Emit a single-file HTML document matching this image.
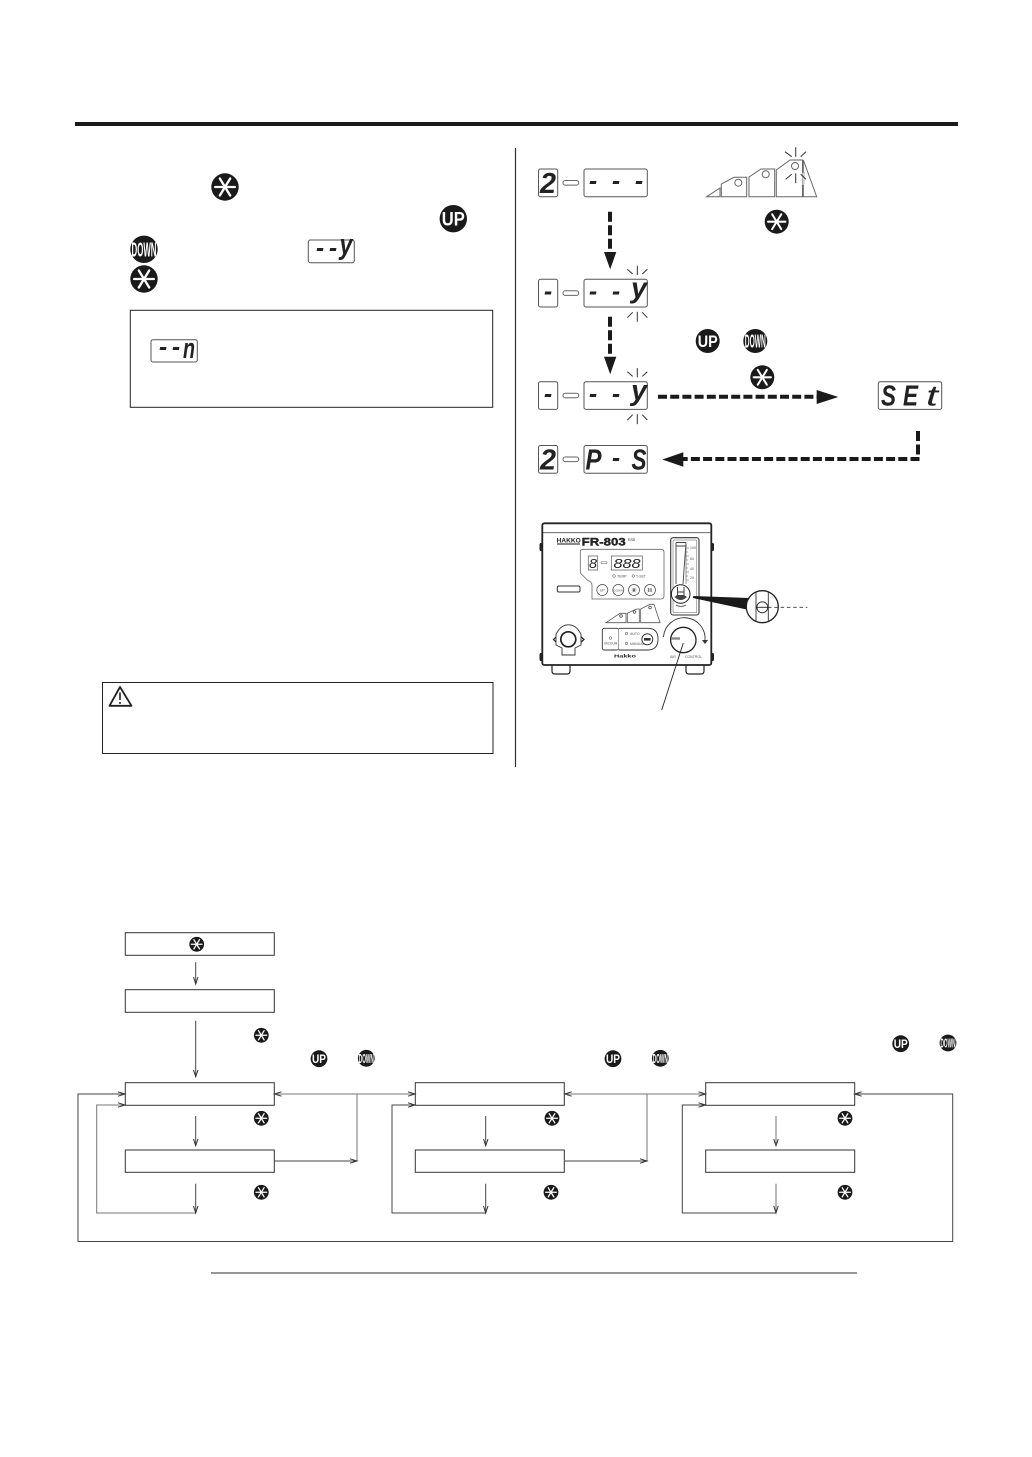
<!DOCTYPE html>
<html lang="en">
<head>
<meta charset="utf-8">
<title>Diagram</title>
<style>
html,body{margin:0;padding:0;background:#fff;}
svg{display:block;}
text{font-family:"Liberation Sans",sans-serif;fill:#222;}
.seg{font-style:italic;font-weight:bold;text-anchor:middle;font-size:29px;}
.dash{font-style:italic;text-anchor:middle;font-size:25px;font-weight:bold;}
.btn{fill:#fff;font-weight:bold;text-anchor:middle;}
.lcd{fill:#fff;stroke:#555;stroke-width:1;}
.fl{fill:none;stroke:#444;stroke-width:1;}
.fg{fill:none;stroke:#777;stroke-width:1;}
.ah{fill:none;stroke:#333;stroke-width:1;}
.ray{stroke:#333;stroke-width:1;fill:none;}
.tiny{font-size:3.5px;fill:#555;}
</style>
</head>
<body>
<svg xmlns="http://www.w3.org/2000/svg" width="1032" height="1457" viewBox="0 0 1032 1457">
<defs>
  <g id="star">
    <circle r="1" fill="#1a1a1a"/>
    <g stroke="#fff" stroke-width="0.17" stroke-linecap="round">
      <line x1="-0.72" y1="0" x2="0.72" y2="0"/>
      <line x1="-0.38" y1="-0.62" x2="0.38" y2="0.62"/>
      <line x1="-0.38" y1="0.62" x2="0.38" y2="-0.62"/>
    </g>
  </g>
  <g id="pillbox">
    <rect class="lcd" x="538.5" y="0" width="19.2" height="27.7" rx="2"/>
    <rect x="563" y="11.5" width="15.7" height="4.6" rx="2.2" fill="#fff" stroke="#666" stroke-width="1"/>
    <rect class="lcd" x="584" y="0" width="63.3" height="27.7" rx="2"/>
  </g>
  <g id="rays">
    <path class="ray" d="M637.3 265.7V275M627.3 269.3L632.7 274M647.3 269.3L642.3 274M637.3 311.7V321.7M627.3 317.7L632.7 312.3M647.3 317.7L642.3 312.3"/>
  </g>
</defs>

<rect width="1032" height="1457" fill="#fff"/>

<!-- top rule and separators -->
<rect x="75" y="122" width="883" height="4" fill="#1a1a1a"/>
<line x1="515.5" y1="148" x2="515.5" y2="767" stroke="#333" stroke-width="1.2"/>
<line x1="211" y1="1273" x2="857" y2="1273" stroke="#777" stroke-width="1.5"/>

<!-- left column icons -->
<use href="#star" transform="translate(225,187) scale(13.7)"/>
<circle cx="453.3" cy="218.7" r="13.7" fill="#1a1a1a"/>
<text class="btn" x="453.3" y="225.5" font-size="19" textLength="23" lengthAdjust="spacingAndGlyphs">UP</text>
<circle cx="144" cy="249.3" r="13.7" fill="#1a1a1a"/>
<text class="btn" x="144" y="256.5" font-size="20" textLength="25" lengthAdjust="spacingAndGlyphs">DOWN</text>
<use href="#star" transform="translate(144,279) scale(13.7)"/>

<rect class="lcd" x="308.3" y="240" width="46" height="22.7" rx="2" stroke="#222"/>
<text class="dash" font-size="20" x="320" y="256">-</text>
<text class="dash" font-size="20" x="333" y="256">-</text>
<text class="seg" font-size="23" x="346" y="254" textLength="13" lengthAdjust="spacingAndGlyphs">y</text>

<rect x="130.3" y="310.3" width="362.4" height="97" fill="#fff" stroke="#222" stroke-width="1"/>
<rect class="lcd" x="151" y="339.7" width="46.3" height="22.3" rx="2" stroke="#222"/>
<text class="dash" font-size="20" x="163" y="355">-</text>
<text class="dash" font-size="20" x="176" y="355">-</text>
<text class="seg" font-size="19" x="189" y="358" textLength="12" lengthAdjust="spacingAndGlyphs">n</text>

<!-- warning box -->
<rect x="102.5" y="682.5" width="390.5" height="71" fill="#fff" stroke="#222" stroke-width="1"/>
<path d="M120 687L109.5 705.8H131.5Z" fill="#fff" stroke="#222" stroke-width="1.8" stroke-linejoin="round"/>
<line x1="120" y1="692.5" x2="120" y2="700" stroke="#222" stroke-width="1.6"/>
<circle cx="120" cy="703" r="1" fill="#222"/>

<!-- display row 1 -->
<use href="#pillbox" transform="translate(0,169)"/>
<text class="seg" x="548" y="193" textLength="16" lengthAdjust="spacingAndGlyphs">2</text>
<text class="dash" x="593" y="189">-</text>
<text class="dash" x="616" y="189">-</text>
<text class="dash" x="639" y="189">-</text>

<!-- mini pyramid top -->
<g fill="#fff" stroke="#666" stroke-width="1">
  <path d="M706.7 196.7L720 188V196.7Z"/>
  <path d="M721.3 196.7V184L734 177.3H746.7V196.7Z"/>
  <path d="M749 196.7V177L761 169H774.7V196.7Z"/>
  <path d="M776.3 196.7V170L790 160H802.5V196.7Z"/>
  <path d="M803.3 160L816.7 196.7H803.3Z"/>
  <circle cx="738.3" cy="182.7" r="3.5"/>
  <circle cx="765.7" cy="174.3" r="3.5"/>
  <circle cx="795" cy="166" r="3.5"/>
</g>
<path class="ray" d="M795.7 147.3V156.7M785 151.7L791.7 156.7M806 151.7L800.7 156.7"/>
<rect x="785" y="172.5" width="22" height="12" fill="#fff"/>
<path d="M802.5 172V184M804 172V184" stroke="#888" stroke-width="0.7"/>
<path class="ray" d="M795.7 173.3V183.3M785.7 179.3L791.7 174.3M806 179.3L800.7 174.3"/>
<use href="#star" transform="translate(776.7,221.7) scale(12)"/>

<!-- dashed arrows -->
<g fill="none" stroke="#1a1a1a" stroke-width="4">
  <line x1="610" y1="211.7" x2="610" y2="252" stroke-dasharray="10 3.5"/>
  <line x1="610" y1="316.7" x2="610" y2="356.7" stroke-dasharray="10 3.5"/>
  <line x1="658" y1="396.7" x2="817" y2="396.7" stroke-dasharray="9 3.2"/>
  <line x1="918" y1="431" x2="918" y2="457" stroke-dasharray="10 3.5"/>
  <line x1="919.5" y1="459" x2="683" y2="459" stroke-dasharray="9 3.2"/>
</g>
<g fill="#1a1a1a">
  <path d="M604 252H616.3L610.2 269.3Z"/>
  <path d="M604 356.7H616.3L610.2 374.3Z"/>
  <path d="M816.7 390V404L838.3 397Z"/>
  <path d="M683.3 452.3V466.7L662.3 459.5Z"/>
</g>

<!-- display row 2 -->
<use href="#pillbox" transform="translate(0,279.3)"/>
<use href="#rays"/>
<text class="dash" x="548" y="299.5">-</text>
<text class="dash" x="593" y="299.5">-</text>
<text class="dash" x="616" y="299.5">-</text>
<text class="seg" x="639" y="297.5" textLength="16" lengthAdjust="spacingAndGlyphs">y</text>

<!-- display row 3 -->
<use href="#pillbox" transform="translate(0,381.7)"/>
<use href="#rays" transform="translate(0,102.4)"/>
<text class="dash" x="548" y="402">-</text>
<text class="dash" x="593" y="402">-</text>
<text class="dash" x="616" y="402">-</text>
<text class="seg" x="639" y="400" textLength="16" lengthAdjust="spacingAndGlyphs">y</text>

<!-- display row 4 -->
<use href="#pillbox" transform="translate(0,445.5)"/>
<text class="seg" x="548" y="469.5" textLength="16" lengthAdjust="spacingAndGlyphs">2</text>
<text class="seg" x="593.5" y="469.5" textLength="16" lengthAdjust="spacingAndGlyphs">P</text>
<text class="dash" x="616" y="466">-</text>
<text class="seg" x="639" y="469.5" textLength="15" lengthAdjust="spacingAndGlyphs">S</text>

<!-- SET -->
<rect class="lcd" x="878.3" y="381.7" width="63.4" height="27.7" rx="2"/>
<text class="seg" x="888.5" y="405.5" textLength="15" lengthAdjust="spacingAndGlyphs">S</text>
<text class="seg" x="910.5" y="405.5" textLength="15" lengthAdjust="spacingAndGlyphs">E</text>
<text class="seg" font-weight="normal" style="font-weight:normal" x="932" y="405.5" textLength="12" lengthAdjust="spacingAndGlyphs">t</text>

<!-- right column buttons -->
<circle cx="707.7" cy="341" r="12" fill="#1a1a1a"/>
<text class="btn" x="707.7" y="347" font-size="17" textLength="20" lengthAdjust="spacingAndGlyphs">UP</text>
<circle cx="755.3" cy="341" r="12" fill="#1a1a1a"/>
<text class="btn" x="755.3" y="347.5" font-size="18" textLength="21" lengthAdjust="spacingAndGlyphs">DOWN</text>
<use href="#star" transform="translate(762.3,377.3) scale(12)"/>

<!-- front panel -->
<g>
  <path d="M552 665V671Q552 674 555 674H567Q570 674 570 671V665M686 665V671Q686 674 689 674H701Q704 674 704 671V665" fill="#fff" stroke="#222" stroke-width="1.2"/>
  <rect x="539.5" y="543" width="4" height="8" rx="1.5" fill="#222"/>
  <rect x="539.5" y="653" width="4" height="8" rx="1.5" fill="#222"/>
  <rect x="710" y="543" width="4" height="8" rx="1.5" fill="#222"/>
  <rect x="710" y="653" width="4" height="8" rx="1.5" fill="#222"/>
  <rect x="542.3" y="523.3" width="169" height="141.7" rx="2" fill="#fff" stroke="#222" stroke-width="1.8"/>
  <line x1="543" y1="532.7" x2="711" y2="532.7" stroke="#555" stroke-width="0.8"/>
  <text x="556.7" y="542.5" font-size="6.5" font-weight="bold" textLength="24" lengthAdjust="spacingAndGlyphs">HAKKO</text>
  <line x1="557" y1="544" x2="580" y2="544" stroke="#444" stroke-width="1.2"/>
  <text x="581.7" y="545.5" font-size="11" font-weight="bold" textLength="44" lengthAdjust="spacingAndGlyphs" stroke="#222" stroke-width="0.4">FR-803</text>
  <text x="628" y="541" font-size="3.5" fill="#444">ESD</text>

  <path d="M583 549.3H661Q664 549.3 664 552V596Q664 599 661 599H592V585Q592 582 588 580.5L580.3 573V552Q580.3 549.3 583 549.3Z" fill="#fff" stroke="#666" stroke-width="0.8"/>
  <rect x="588.3" y="556" width="9.4" height="14" fill="#fff" stroke="#555" stroke-width="0.7"/>
  <rect x="601" y="561.5" width="6" height="2.2" rx="1" fill="#fff" stroke="#777" stroke-width="0.6"/>
  <rect x="611.3" y="556" width="31" height="14" fill="#fff" stroke="#555" stroke-width="0.7"/>
  <text x="593" y="568" font-size="13" font-style="italic" text-anchor="middle" textLength="8" lengthAdjust="spacingAndGlyphs" fill="#444">8</text>
  <text x="627" y="568" font-size="13" font-style="italic" text-anchor="middle" textLength="27" lengthAdjust="spacingAndGlyphs" fill="#444">888</text>
  <circle cx="614" cy="576" r="1.3" fill="#fff" stroke="#444" stroke-width="0.5"/>
  <text class="tiny" x="617" y="577.5">TEMP</text>
  <circle cx="633.3" cy="576" r="1.3" fill="#fff" stroke="#444" stroke-width="0.5"/>
  <text class="tiny" x="636" y="577.5">T-SET</text>
  <g fill="#fff" stroke="#444" stroke-width="0.7">
    <circle cx="602.3" cy="590" r="5.5"/>
    <circle cx="618.3" cy="590" r="5.5"/>
    <circle cx="634" cy="590" r="5.5"/>
    <circle cx="650" cy="590" r="5.5"/>
  </g>
  <text class="tiny" x="602.3" y="591.3" text-anchor="middle">UP</text>
  <text class="tiny" x="618.3" y="591.3" text-anchor="middle" style="font-size:3px">DOWN</text>
  <path d="M631.5 590H636.5M632.7 587.8L635.3 592.2M632.7 592.2L635.3 587.8M648.5 588V592M651 588V592M647.5 589H652M647.5 591H652" stroke="#444" stroke-width="0.6" fill="none"/>
  <rect x="557.3" y="586" width="22.7" height="6" rx="1.5" fill="#fff" stroke="#333" stroke-width="1"/>

  <!-- gauge -->
  <rect x="670.7" y="537.7" width="28.3" height="77.3" rx="2.5" fill="#fff" stroke="#333" stroke-width="1.1"/>
  <rect x="673" y="540" width="23.7" height="72.7" rx="1.5" fill="none" stroke="#888" stroke-width="0.7"/>
  <path d="M676 542.5V584M686 542.5L683 584M676 542.5H686M676 546H685.5" fill="none" stroke="#444" stroke-width="0.9"/>
  <path d="M686 548H689M686 552H688M686 556H689M686 560H688M686 564H689M686 568H688M686 572H689M686 576H688M686 580H689M686 544V584" stroke="#555" stroke-width="0.6" fill="none"/>
  <text class="tiny" x="690" y="549">100</text>
  <text class="tiny" x="690" y="560">60</text>
  <text class="tiny" x="690" y="570">40</text>
  <text class="tiny" x="690" y="579">20</text>
  <circle cx="680.7" cy="594" r="9.3" fill="#fff" stroke="#222" stroke-width="1"/>
  <path d="M677.5 587V597M684 587V597M677.5 592H684" stroke="#333" stroke-width="0.9" fill="none"/>
  <path d="M674.5 597Q680.7 603 687 597L684 595H677Z" fill="#444"/>
  <path d="M676 605Q681 608 686 605" stroke="#444" stroke-width="0.8" fill="none"/>

  <!-- zoom lens -->
  <path d="M693.3 596L692.8 598L746.7 609.5L749 598Z" fill="#1a1a1a"/>
  <circle cx="762.3" cy="606.7" r="16" fill="#fff" stroke="#222" stroke-width="1.3"/>
  <path d="M756 591.5V622M768.3 591.5V622" stroke="#333" stroke-width="0.9" fill="none"/>
  <circle cx="762.3" cy="607.3" r="5.5" fill="#fff" stroke="#222" stroke-width="0.9"/>
  <line x1="756" y1="607.3" x2="768" y2="607.3" stroke="#222" stroke-width="0.9"/>
  <line x1="768" y1="607.3" x2="807.3" y2="607.3" stroke="#333" stroke-width="0.9" stroke-dasharray="3.5 2.8"/>

  <!-- mini pyramid panel -->
  <g fill="#fff" stroke="#555" stroke-width="0.8">
    <path d="M606 622.7L620 613.3H626V622.7Z"/>
    <path d="M627.3 622.7V613.3L636.7 609H639.3V622.7Z"/>
    <path d="M640.7 622.7V609L650 604.3H654L660 622.7Z"/>
    <circle cx="621" cy="616" r="1.3"/>
    <circle cx="634.5" cy="612" r="1.3"/>
    <circle cx="650" cy="607.5" r="1.3"/>
  </g>

  <!-- switch block -->
  <rect x="602.3" y="628.3" width="16.4" height="21.7" rx="2" fill="#fff" stroke="#333" stroke-width="0.9"/>
  <path d="M618.7 628.3H648Q658 628.3 658 639T648 650H618.7" fill="#fff" stroke="#333" stroke-width="0.9"/>
  <circle cx="647.3" cy="639.3" r="5.5" fill="#fff" stroke="#222" stroke-width="0.9"/>
  <rect x="644" y="638" width="6.6" height="2.6" fill="#333"/>
  <circle cx="610.5" cy="638" r="1.3" fill="#fff" stroke="#444" stroke-width="0.5"/>
  <text class="tiny" x="610.5" y="644.5" text-anchor="middle" style="font-size:3.2px">VACUUM</text>
  <circle cx="626.5" cy="633.5" r="1.3" fill="#fff" stroke="#444" stroke-width="0.5"/>
  <text class="tiny" x="630" y="635">AUTO</text>
  <circle cx="626.5" cy="643.5" r="1.3" fill="#fff" stroke="#444" stroke-width="0.5"/>
  <text class="tiny" x="630" y="645">MANUAL</text>
  <text x="614" y="657.5" font-size="4.5" font-weight="bold" textLength="22" lengthAdjust="spacingAndGlyphs">Hakko</text>

  <!-- knob -->
  <path d="M663.5 637A20 20 0 0 1 705 640" fill="none" stroke="#333" stroke-width="0.9"/>
  <path d="M702 640H708L705 644Z" fill="#333"/>
  <circle cx="683.3" cy="640" r="12.7" fill="#fff" stroke="#222" stroke-width="1.3"/>
  <path d="M671 638.5H680" stroke="#888" stroke-width="2.4"/>
  <text class="tiny" x="670" y="658">AIR</text>
  <text class="tiny" x="685" y="658">CONTROL</text>
  <line x1="683.3" y1="643" x2="661.7" y2="710" stroke="#222" stroke-width="0.9"/>

  <!-- connector -->
  <path d="M557 636L553.5 639.5L557 643M580 636L584 639.5L580 643" fill="none" stroke="#222" stroke-width="1.2"/>
  <path d="M558 631A12 12 0 0 1 579 631L581 634V645L575 648V655H562V648L556 645V634Z" fill="#fff" stroke="#333" stroke-width="0.9"/>
  <circle cx="568.3" cy="639.3" r="7.5" fill="#fff" stroke="#222" stroke-width="1.7"/>
</g>

<!-- flowchart boxes -->
<g fill="#fff" stroke="#333" stroke-width="1">
  <rect x="125.3" y="932.7" width="149" height="22.6"/>
  <rect x="125.3" y="989.7" width="149" height="22.6"/>
  <rect x="125.3" y="1082.7" width="149" height="22.6"/>
  <rect x="125.3" y="1150" width="149" height="22.3"/>
  <rect x="415.3" y="1082.7" width="149" height="22.6"/>
  <rect x="415.3" y="1150" width="149" height="22.3"/>
  <rect x="705.7" y="1082.7" width="149" height="22.6"/>
  <rect x="705.7" y="1150" width="149" height="22.3"/>
</g>

<!-- flowchart lines -->
<g>
  <path class="fl" d="M195.7 962.3V984M195.7 1020.7V1076.7M195.7 1116V1145.7M195.7 1183.7V1213"/>
  <path class="fl" d="M485.7 1116V1145.7M485.7 1183.7V1213"/>
  <path class="fg" d="M776 1116V1145.7M776 1183.7V1213"/>
  <path class="fg" d="M195.7 1213H96.7V1105H125"/>
  <path class="fl" d="M485.7 1213H392V1105H415"/>
  <path class="fl" d="M776 1213H682.3V1105H705.5"/>
  <path class="fl" d="M125 1094H78V1241.5H952.7V1094H855"/>
  <path class="fg" d="M274.5 1094H415M357 1094V1161M565 1094H705.5M647 1094V1161"/>
  <path class="fl" d="M274.5 1161H357M565 1161H647"/>
</g>

<!-- flowchart arrowheads -->
<g>
  <path class="ah" d="M193.5 977L195.7 984L198 977M193.5 1070L195.7 1076.7L198 1070M193.5 1139L195.7 1145.7L198 1139M193.5 1206L195.7 1213L198 1206"/>
  <path class="ah" d="M483.5 1139L485.7 1145.7L488 1139M483.5 1206L485.7 1213L488 1206"/>
  <path class="ah" d="M773.8 1139L776 1145.7L778.2 1139M773.8 1206L776 1213L778.2 1206"/>
  <path class="ah" d="M118 1091.8L125 1094L118 1096.2M118 1102.8L125 1105L118 1107.2"/>
  <path class="ah" d="M408 1091.8L415 1094L408 1096.2M408 1102.8L415 1105L408 1107.2"/>
  <path class="ah" d="M698.5 1091.8L705.5 1094L698.5 1096.2M698.5 1102.8L705.5 1105L698.5 1107.2"/>
  <path class="ah" d="M281.5 1091.8L274.5 1094L281.5 1096.2M571.7 1091.8L564.7 1094L571.7 1096.2M861.7 1091.8L854.7 1094L861.7 1096.2"/>
  <path class="ah" d="M350 1158.8L357 1161L350 1163.2M640 1158.8L647 1161L640 1163.2"/>
</g>

<!-- flowchart icons -->
<use href="#star" transform="translate(196.7,944.3) scale(7.4)"/>
<use href="#star" transform="translate(261.3,1035.3) scale(7.4)"/>
<use href="#star" transform="translate(261.3,1118.3) scale(7.4)"/>
<use href="#star" transform="translate(261.3,1192.3) scale(7.4)"/>
<use href="#star" transform="translate(552,1118.3) scale(7.4)"/>
<use href="#star" transform="translate(551,1192.3) scale(7.4)"/>
<use href="#star" transform="translate(845,1118.3) scale(7.4)"/>
<use href="#star" transform="translate(845,1192.3) scale(7.4)"/>

<circle cx="319" cy="1058.7" r="8.4" fill="#1a1a1a"/>
<text class="btn" x="319" y="1063" font-size="12" textLength="14" lengthAdjust="spacingAndGlyphs">UP</text>
<circle cx="366.3" cy="1058.3" r="8.4" fill="#1a1a1a"/>
<text class="btn" x="366.3" y="1062.8" font-size="13" textLength="15" lengthAdjust="spacingAndGlyphs">DOWN</text>
<circle cx="613" cy="1058.7" r="8.4" fill="#1a1a1a"/>
<text class="btn" x="613" y="1063" font-size="12" textLength="14" lengthAdjust="spacingAndGlyphs">UP</text>
<circle cx="660.3" cy="1058.3" r="8.4" fill="#1a1a1a"/>
<text class="btn" x="660.3" y="1062.8" font-size="13" textLength="15" lengthAdjust="spacingAndGlyphs">DOWN</text>
<circle cx="900.7" cy="1043.7" r="8.4" fill="#1a1a1a"/>
<text class="btn" x="900.7" y="1048" font-size="12" textLength="14" lengthAdjust="spacingAndGlyphs">UP</text>
<circle cx="948" cy="1043" r="8.4" fill="#1a1a1a"/>
<text class="btn" x="948" y="1047.5" font-size="13" textLength="15" lengthAdjust="spacingAndGlyphs">DOWN</text>
</svg>
</body>
</html>
